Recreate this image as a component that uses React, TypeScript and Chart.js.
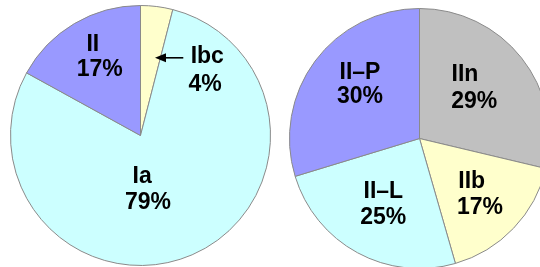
import React, { useEffect, useRef } from "react";
import { Chart, registerables } from "chart.js";

Chart.register(...registerables);

// Left pie (Type I / II)
const leftLabels = ["Ibc", "Ia", "II"];
const leftValues = [4, 79, 17];
const leftColors = ["#ffffcc", "#ccffff", "#9999ff"];

// Right pie (Type II subtypes)
const rightLabels = ["IIn", "IIb", "II\u2013L", "II\u2013P"];
const rightValues = [29, 17, 25, 30];
const rightColors = ["#c0c0c0", "#ffffcc", "#ccffff", "#9999ff"];

// layout: text baseline offsets (px) from pie centre: [nameX, nameY, pctX, pctY]
const leftTextPos = [
  [66.8, -72.5, 64.5, -44.5],
  [1.7, 47.2, 7.5, 73.3],
  [-47.7, -84.5, -40.8, -59.5],
];
const rightTextPos = [
  [45.5, -57.2, 54.7, -30.5],
  [52.2, 49.5, 60.5, 75],
  [-36.2, 59.5, -36.2, 85.3],
  [-59.5, -60, -59.5, -35.5],
];
// layout: arrow (from, tip) offsets from left pie centre
const leftArrow = [42.8, -77.7, 14.5, -77.7];

const FONT = "bold 23px 'Liberation Sans', Arial, Helvetica, sans-serif";

function makeLabelPlugin(labels: string[], values: number[], pos: number[][], arrow: number[] | null) {
  return {
    id: "sliceLabels",
    afterDatasetsDraw(chart: any) {
      const meta = chart.getDatasetMeta(0);
      const arc = meta.data[0];
      if (!arc) return;
      const cx = arc.x;
      const cy = arc.y;
      const ctx = chart.ctx;
      ctx.save();
      ctx.font = FONT;
      ctx.fillStyle = "#000";
      ctx.textAlign = "center";
      ctx.textBaseline = "alphabetic";
      labels.forEach((lab, i) => {
        const p = pos[i];
        ctx.fillText(lab, cx + p[0], cy + p[1]);
        ctx.fillText(Math.round(values[i]) + "%", cx + p[2], cy + p[3]);
      });
      if (arrow) {
        const fx = cx + arrow[0];
        const fy = cy + arrow[1];
        const tx = cx + arrow[2];
        const ty = cy + arrow[3];
        ctx.strokeStyle = "#000";
        ctx.lineWidth = 1.6;
        ctx.beginPath();
        ctx.moveTo(fx, fy);
        ctx.lineTo(tx + 8, ty);
        ctx.stroke();
        ctx.beginPath();
        ctx.moveTo(tx, ty);
        ctx.lineTo(tx + 11, ty - 4.5);
        ctx.lineTo(tx + 11, ty + 4.5);
        ctx.closePath();
        ctx.fill();
      }
      ctx.restore();
    },
  };
}

function PieCanvas(props: {
  labels: string[];
  values: number[];
  colors: string[];
  pos: number[][];
  arrow: number[] | null;
  style: React.CSSProperties;
  size: number;
}) {
  const ref = useRef<HTMLCanvasElement | null>(null);
  useEffect(() => {
    if (!ref.current) return;
    const chart = new Chart(ref.current, {
      type: "pie",
      data: {
        labels: props.labels,
        datasets: [
          {
            data: props.values,
            backgroundColor: props.colors,
            borderColor: "#8a8a8a",
            borderWidth: 1,
          },
        ],
      },
      options: {
        responsive: false,
        animation: false,
        events: [],
        layout: { padding: 0 },
        plugins: {
          legend: { display: false },
          tooltip: { enabled: false },
        },
      },
      plugins: [makeLabelPlugin(props.labels, props.values, props.pos, props.arrow)],
    });
    return () => chart.destroy();
  }, []);
  return (
    <canvas
      ref={ref}
      width={props.size}
      height={props.size}
      style={{ position: "absolute", width: props.size, height: props.size, ...props.style }}
    />
  );
}

export default function App() {
  useEffect(() => {
    document.body.style.margin = "0";
    document.body.style.overflow = "hidden";
  }, []);
  const size = 261;
  return (
    <div
      style={{
        position: "fixed",
        left: 0,
        top: 0,
        width: 540,
        height: 267,
        overflow: "hidden",
        background: "#fff",
      }}
    >
      <PieCanvas
        labels={leftLabels}
        values={leftValues}
        colors={leftColors}
        pos={leftTextPos}
        arrow={leftArrow}
        size={size}
        style={{ left: 140.5 - size / 2, top: 135 - size / 2 }}
      />
      <PieCanvas
        labels={rightLabels}
        values={rightValues}
        colors={rightColors}
        pos={rightTextPos}
        arrow={null}
        size={size}
        style={{ left: 419.5 - size / 2, top: 138.5 - size / 2 }}
      />
    </div>
  );
}
